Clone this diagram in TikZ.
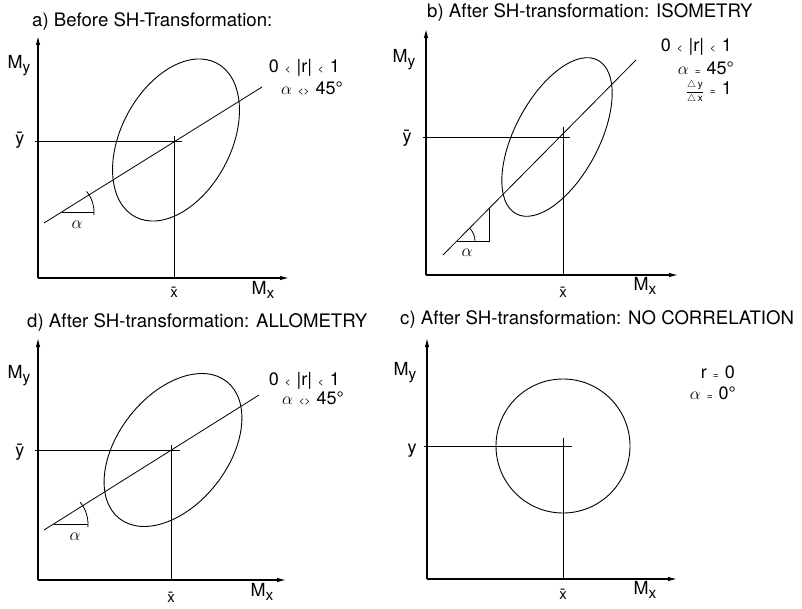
\documentclass[tikz,border=0pt]{standalone}
\usepackage{fontspec}
\setmainfont{TeX Gyre Heros}
\usepackage{amsmath}
\usepackage{tikz}
\usetikzlibrary{arrows.meta}
\newcommand{\lowsub}[1]{\raisebox{-0.45ex}{\fontsize{15.5}{15}\selectfont #1}}
\newcommand{\smallrel}[1]{\hspace{6pt}{\fontsize{10}{10}\selectfont #1}\hspace{6pt}}
\tikzset{
	axis/.style   ={line width=1.1pt, -{Latex[length=9pt,width=4.5pt]}},
	guide/.style  ={line width=0.8pt},
	regline/.style={line width=0.8pt},
	cloud/.style  ={line width=0.9pt},
	% text styles
	ttl/.style    ={anchor=west, inner sep=0pt, font=\fontsize{18.6}{20}\selectfont},
	lbl/.style    ={inner sep=0pt, font=\fontsize{18}{20}\selectfont},
	bar/.style    ={inner sep=0pt, font=\fontsize{15}{18}\selectfont},
	stat/.style   ={anchor=east, inner sep=0pt, font=\fontsize{18}{20}\selectfont},
}

\begin{document}
\begin{tikzpicture}[x=1pt, y=-1pt]
	\useasboundingbox (0,0) rectangle (802,609);

	% a) before transformation
	\node[ttl] (aTitle) at (32,22) {a) Before SH-Transformation:};
	\coordinate (aO) at (38,278); \coordinate (aY) at (38,36); \coordinate (aX) at (289,278);
	\draw[axis] (aO) -- (aY); \draw[axis] (aO) -- (aX);
	\coordinate (aHl) at (35,141); \coordinate (aHr) at (182,141); \coordinate (aVt) at (174,136);
	\draw[guide] (aHl) -- (aHr); \draw[guide] (aVt) -- (aVt |- aO);
	\coordinate (aE) at (176,140);
	\draw[cloud, rotate around={62:(aE)}] (aE) ellipse [x radius=87, y radius=55];
	\coordinate (aL1) at (44,223); \coordinate (aL2) at (262,87);
	\draw[regline] (aL1) -- (aL2);
	\coordinate (aV) at (62,212); \coordinate (aH) at (94,212);
	\draw[guide] (aV) -- (aH);
	\draw[guide] (aV) ++(5:32) arc[start angle=5, end angle=-40, radius=32];
	\node[lbl] (aAlpha) at (77,225) {$\alpha$};
	\node[lbl] (aMy) at (19,66) {M\lowsub{y}};
	\node[lbl] (aYbar) at (20,140) {\=y};
	\node[bar] (aXbar) at (174,292) {\=x};
	\node[lbl] (aMx) at (263,290) {M\lowsub{x}};
	\node[stat] (aR) at (340,68) {0\smallrel{<}|r|\smallrel{<}1};
	\node[stat] (aA) at (343,88) {$\alpha$\smallrel{<>}45°};

	% b) isometry
	\node[ttl] (bTitle) at (427,13) {b) After SH-transformation: ISOMETRY};
	\coordinate (bO) at (426,275); \coordinate (bY) at (426,29); \coordinate (bX) at (678,275);
	\draw[axis] (bO) -- (bY); \draw[axis] (bO) -- (bX);
	\coordinate (bHl) at (423,137); \coordinate (bHr) at (570,137); \coordinate (bVt) at (563,127);
	\draw[guide] (bHl) -- (bHr); \draw[guide] (bVt) -- (bVt |- bO);
	\coordinate (bE) at (557,137);
	\draw[cloud, rotate around={62:(bE)}] (bE) ellipse [x radius=87, y radius=42];
	\coordinate (bL1) at (443,255); \coordinate (bL2) at (636,60);
	\draw[regline] (bL1) -- (bL2);
	\coordinate (bV) at (457,241); \coordinate (bH) at (489,241); \coordinate (bT) at (489,209);
	\draw[guide] (bV) -- (bH) -- (bT);
	\draw[guide] (bV) ++(0:18) arc[start angle=0, end angle=-45, radius=18];
	\node[lbl] (bAlpha) at (467,253) {$\alpha$};
	\node[lbl] (bMy) at (404,60) {M\lowsub{y}};
	\node[lbl] (bYbar) at (407,138) {\=y};
	\node[bar] (bXbar) at (563,292) {\=x};
	\node[lbl] (bMx) at (645,286) {M\lowsub{x}};
	\node[stat] (bR) at (732,47) {0\smallrel{<}|r|\smallrel{<}1};
	\node[stat] (bA) at (734,68) {$\alpha$\smallrel{=}45°};
	\node[stat] (bD) at (732,92) {{\fontsize{10}{10}\selectfont$\dfrac{\triangle\,\text{y}}{\triangle\,\text{x}}$}\smallrel{=}1};

	% d) allometry
	\node[ttl] (dTitle) at (27,323) {d) After SH-transformation: ALLOMETRY};
	\coordinate (dO) at (38,580); \coordinate (dY) at (38,338); \coordinate (dX) at (286,580);
	\draw[axis] (dO) -- (dY); \draw[axis] (dO) -- (dX);
	\coordinate (dHl) at (35,450); \coordinate (dHr) at (180,450); \coordinate (dVt) at (171,445);
	\draw[guide] (dHl) -- (dHr); \draw[guide] (dVt) -- (dVt |- dO);
	\coordinate (dE) at (173,450);
	\draw[cloud, rotate around={52:(dE)}] (dE) ellipse [x radius=87, y radius=55];
	\coordinate (dL1) at (44,530); \coordinate (dL2) at (259,395);
	\draw[regline] (dL1) -- (dL2);
	\coordinate (dV) at (54,524); \coordinate (dH) at (88,524);
	\draw[guide] (dV) -- (dH);
	\draw[guide] (dV) ++(5:34) arc[start angle=5, end angle=-40, radius=34];
	\node[lbl] (dAlpha) at (75,537) {$\alpha$};
	\node[lbl] (dMy) at (19,376) {M\lowsub{y}};
	\node[lbl] (dYbar) at (20,452) {\=y};
	\node[bar] (dXbar) at (171,597) {\=x};
	\node[lbl] (dMx) at (262,592) {M\lowsub{x}};
	\node[stat] (dR) at (340,381) {0\smallrel{<}|r|\smallrel{<}1};
	\node[stat] (dA) at (344,398) {$\alpha$\smallrel{<>}45°};

	% c) no correlation
	\node[ttl] (cTitle) at (400,320) {c) After SH-transformation: NO CORRELATION};
	\coordinate (cO) at (427,579); \coordinate (cY) at (427,338); \coordinate (cX) at (677,579);
	\draw[axis] (cO) -- (cY); \draw[axis] (cO) -- (cX);
	\coordinate (cHl) at (424,446); \coordinate (cHr) at (572,446); \coordinate (cVt) at (563,438);
	\draw[guide] (cHl) -- (cHr); \draw[guide] (cVt) -- (cVt |- cO);
	\coordinate (cE) at (563,446);
	\draw[cloud] (cE) circle [radius=67];
	\node[lbl] (cMy) at (405,373) {M\lowsub{y}};
	\node[lbl] (cYlab) at (412,451) {y};
	\node[bar] (cXbar) at (563,594) {\=x};
	\node[lbl] (cMx) at (645,590) {M\lowsub{x}};
	\node[stat] (cR) at (735,372) {r\smallrel{=}0};
	\node[stat] (cA) at (736,393) {$\alpha$\smallrel{=}0°};
\end{tikzpicture}
\end{document}
